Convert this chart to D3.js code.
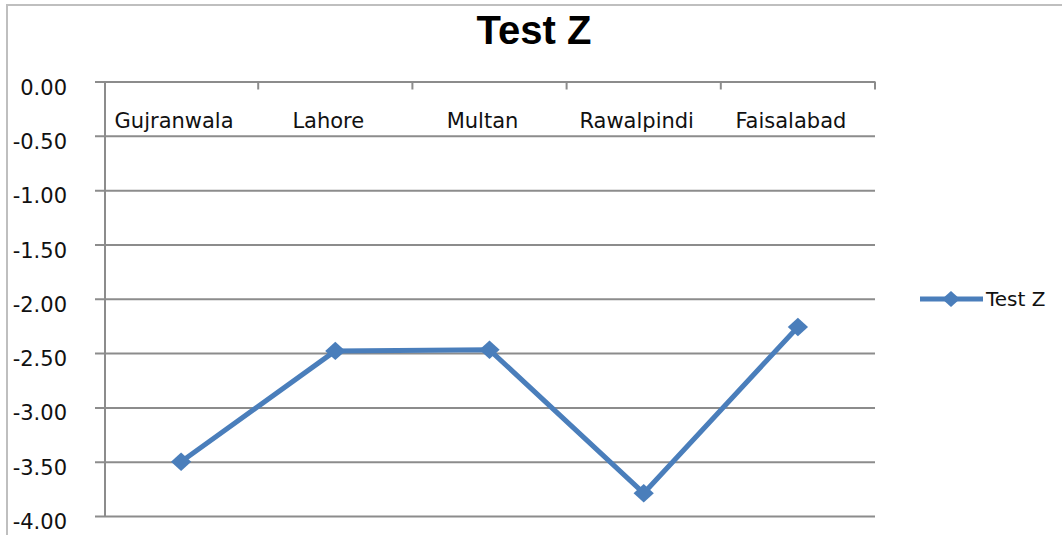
<!DOCTYPE html>
<meta charset="utf-8">
<script src="https://d3js.org/d3.v7.min.js"></script>
<style>
  body { margin: 0; background: #fff; }
  text { font-family: "DejaVu Sans", sans-serif; fill: #111; }
</style>
<div id="chart"></div>
<script>

// data
var categories = ["Gujranwala", "Lahore", "Multan", "Rawalpindi", "Faisalabad"];
var values = [-3.50, -2.48, -2.47, -3.79, -2.26];
var yTicks = [0, -0.5, -1, -1.5, -2, -2.5, -3, -3.5, -4];
var seriesName = "Test Z";

var width = 1062, height = 535;
var plotLeft = 104, plotRight = 875, plotTop = 81.5, plotBottom = 516;

var svg = d3.select("#chart")
  .append("svg")
    .attr("width", width)
    .attr("height", height);

// chart frame (only top and left are inside the window)
svg.append("rect")
  .attr("x", 7).attr("y", 5)
  .attr("width", 1100).attr("height", 600)
  .attr("fill", "none")
  .attr("stroke", "#bfbfbf")
  .attr("stroke-width", 2);

// title
svg.append("text")
  .attr("x", 534)
  .attr("y", 44)
  .attr("text-anchor", "middle")
  .style("font-family", "'Liberation Sans', Arial, sans-serif")
  .style("font-weight", "bold")
  .style("font-size", "40px")
  .style("fill", "#000")
  .text(seriesName);

var x = d3.scaleBand()
  .domain(categories)
  .range([plotLeft, plotRight]);

var y = d3.scaleLinear()
  .domain([-4, 0])
  .range([plotBottom, plotTop]);

// plain hyphen as the minus sign, like the original
var fmt = function(d) { return d3.format(".2f")(d).replace("\u2212", "-"); };

// gridlines + y labels
var yAxis = svg.append("g")
  .attr("transform", "translate(" + plotRight + ",0)")
  .call(d3.axisLeft(y)
    .tickValues(yTicks)
    .tickSize(plotRight - 95)
    .tickPadding(28)
    .tickFormat(fmt));
yAxis.select(".domain").remove();
yAxis.selectAll("line")
  .attr("stroke", "#8c8c8c")
  .attr("stroke-width", 2);
yAxis.selectAll("text")
  .attr("dy", "0.6em")
  .style("font-size", "21px")
  .style("font-family", "'DejaVu Sans', sans-serif")
  .style("fill", "#111");

// vertical axis line
svg.append("line")
  .attr("x1", plotLeft + 1).attr("x2", plotLeft + 1)
  .attr("y1", y(0)).attr("y2", y(-4))
  .attr("stroke", "#8c8c8c")
  .attr("stroke-width", 2);

// category tick marks on the 0 line
var bounds = categories.map(function(d) { return x(d); }).concat([plotRight]);
svg.selectAll(".xtick")
  .data(bounds.slice(1))
  .enter()
  .append("line")
    .attr("class", "xtick")
    .attr("x1", function(d) { return d; })
    .attr("x2", function(d) { return d; })
    .attr("y1", y(0))
    .attr("y2", y(0) + 8)
    .attr("stroke", "#8c8c8c")
    .attr("stroke-width", 2);

// category labels
svg.selectAll(".xlabel")
  .data(categories)
  .enter()
  .append("text")
    .attr("class", "xlabel")
    .attr("x", function(d) { return x(d) + x.bandwidth() / 2 - 7; })
    .attr("y", 128)
    .attr("text-anchor", "middle")
    .style("font-size", "21px")
    .text(function(d) { return d; });

var blue = "#4a7ebb";
var points = categories.map(function(d, i) { return {name: d, value: values[i]}; });

var line = d3.line()
  .x(function(d) { return x(d.name) + x.bandwidth() / 2; })
  .y(function(d) { return y(d.value); });

svg.append("path")
  .datum(points)
  .attr("d", line)
  .attr("fill", "none")
  .attr("stroke", blue)
  .attr("stroke-width", 5)
  .attr("stroke-linejoin", "round");

// square turned 45 degrees, a bit wider than tall
var diamond = d3.symbol().type(d3.symbolSquare).size(170);

svg.selectAll(".marker")
  .data(points)
  .enter()
  .append("path")
    .attr("class", "marker")
    .attr("d", diamond)
    .attr("transform", function(d) {
      return "translate(" + (x(d.name) + x.bandwidth() / 2) + "," + y(d.value) + ") scale(1.1,1) rotate(45)";
    })
    .attr("fill", blue);

// legend
var lg = svg.append("g").attr("transform", "translate(920,299)");
lg.append("line")
  .attr("x1", 0).attr("x2", 63)
  .attr("stroke", blue)
  .attr("stroke-width", 5);
lg.append("path")
  .attr("d", d3.symbol().type(d3.symbolSquare).size(130))
  .attr("transform", "translate(31,0) scale(1.1,1) rotate(45)")
  .attr("fill", blue);
lg.append("text")
  .attr("x", 66)
  .attr("y", 7)
  .style("font-size", "20px")
  .text(seriesName);

</script>
